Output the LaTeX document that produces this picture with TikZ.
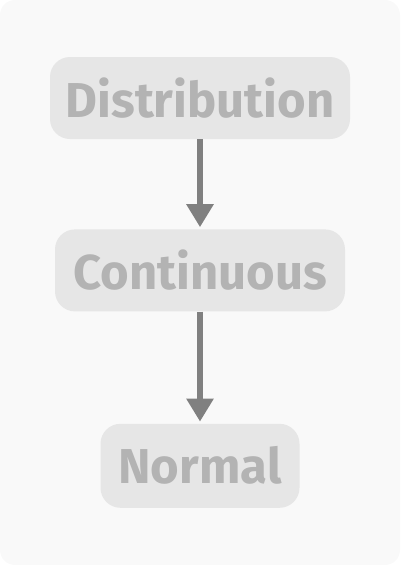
\documentclass[tikz,border=0pt]{standalone}
\usepackage{fontspec}
\setsansfont{Fira Sans}
\usepackage{tikz}
\usetikzlibrary{arrows.meta,positioning}
\usepackage{xcolor}
\definecolor{bgcol}{HTML}{F9F9F9}
\definecolor{boxcol}{HTML}{E6E6E6}
\definecolor{textcol}{HTML}{B3B3B3}
\definecolor{arrowcol}{HTML}{808080}

\begin{document}
\begin{tikzpicture}[
    x=1pt, y=1pt,
    level/.style={rectangle, rounded corners=20pt, minimum height=82pt, inner sep=0pt, text centered, fill=boxcol, text=textcol, font=\sffamily\bfseries\fontsize{49}{58}\selectfont},
    arrow/.style={draw=arrowcol, line width=6pt, -{Triangle[width=26pt, length=23pt]}, shorten >=2pt}
]

% background
\fill[bgcol, rounded corners=15pt] (0,0) rectangle (400,-565);

\node (dist) [level, minimum width=300pt] at (200,-98) {Distribution};
\node (cont) [level, minimum width=290pt, below=90pt of dist] {Continuous};
\node (norm) [level, minimum width=199pt, minimum height=84pt, below=112pt of cont] {Normal};

% Arrows
\draw[arrow] (dist) -- (cont);
\draw[arrow] (cont) -- (norm);

\end{tikzpicture}
\end{document}
